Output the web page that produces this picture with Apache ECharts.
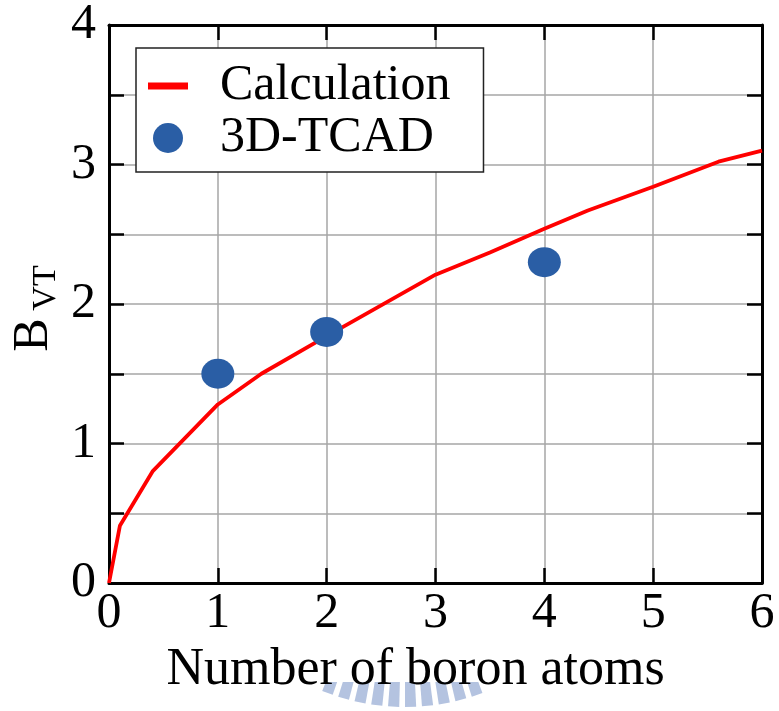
<!DOCTYPE html>
<html>
<head>
<meta charset="utf-8">
<script src="https://cdn.jsdelivr.net/npm/echarts@6/dist/echarts.min.js"></script>
<style>
html,body{margin:0;padding:0;background:#fff;}
#chart{width:779px;height:711px;}
</style>
</head>
<body>
<div id="chart"></div>
<script>
// ---- data ----
const calcX = [0, 0.1, 0.4, 0.7, 1.0, 1.4, 2.0, 2.5, 3.0, 3.5, 4.0, 4.4, 5.0, 5.6, 6.0];
const calcY = [0, 0.41, 0.80, 1.04, 1.28, 1.50, 1.77, 1.99, 2.21, 2.37, 2.54, 2.67, 2.84, 3.02, 3.10];
const tcadX = [1, 2, 4];
const tcadY = [1.5, 1.8, 2.3];
const seriesNames = ['Calculation', '3D-TCAD'];
const xTitle = 'Number of boron atoms';
const yTitleMain = 'B';
const yTitleSub = 'VT';

const FONT = '"Liberation Serif", "Times New Roman", serif';
const chart = echarts.init(document.getElementById('chart'), null, {renderer: 'canvas'});

function axisLine() { return {show: true, onZero: false, lineStyle: {color: '#000', width: 3}}; }
function tick() { return {show: true, inside: true, length: 15, lineStyle: {color: '#000', width: 2.5}}; }
function split() { return {show: true, lineStyle: {color: '#a6a6a6', width: 1.5}}; }

// decorative faint stamp at bottom of the reference image (not data)
const stamp = [];
(function () {
  const cx = 405, cy = 486, R = 221, yTop = 682;
  const n = 10, span = 44 * Math.PI / 180, per = span / n, dash = per * 0.66;
  for (let i = 0; i < n; i++) {
    const a1 = -span / 2 + i * per, a2 = a1 + dash;
    const pts = [
      [cx + (yTop - cy) * Math.tan(a1), yTop],
      [cx + R * Math.sin(a1), cy + R * Math.cos(a1)],
      [cx + R * Math.sin(a2), cy + R * Math.cos(a2)],
      [cx + (yTop - cy) * Math.tan(a2), yTop]
    ];
    stamp.push({type: 'polygon', silent: true, z: 0, shape: {points: pts}, style: {fill: '#b4c3e0'}});
  }
})();

chart.setOption({
  backgroundColor: '#fff',
  animation: false,
  grid: {left: 109, top: 22, right: 17, bottom: 128, containLabel: false},
  legend: {
    show: true,
    orient: 'vertical',
    left: 136, top: 48,
    padding: [13, 33, 9, 12],
    backgroundColor: '#fff',
    borderColor: '#222',
    borderWidth: 1.5,
    borderRadius: 0,
    itemWidth: 40,
    itemHeight: 30,
    itemGap: 2,
    symbolKeepAspect: true,
    textStyle: {fontFamily: FONT, fontSize: 50, color: '#000', lineHeight: 44, padding: [0, 0, 0, 27]},
    data: [
      {name: seriesNames[0], icon: 'path://M0,0 L40,0 L40,7 L0,7 Z', itemStyle: {color: '#ff0000'}},
      {name: seriesNames[1], icon: 'circle'}
    ]
  },
  xAxis: [{
    type: 'value', min: 0, max: 6, interval: 1, position: 'bottom',
    axisLine: axisLine(), axisTick: tick(), splitLine: split(),
    axisLabel: {fontFamily: FONT, fontSize: 50, color: '#000', margin: 6},
    name: xTitle, nameLocation: 'middle', nameGap: 46,
    nameTextStyle: {fontFamily: FONT, fontSize: 52, color: '#000', padding: [0, 40, 0, 0]}
  }, {
    type: 'value', min: 0, max: 6, interval: 1, position: 'top',
    axisLine: axisLine(), axisTick: tick(), splitLine: {show: false},
    axisLabel: {show: false}
  }],
  yAxis: [{
    type: 'value', min: 0, max: 4, interval: 0.5, position: 'left',
    axisLine: axisLine(), axisTick: tick(), splitLine: split(),
    axisLabel: {
      fontFamily: FONT, fontSize: 50, color: '#000', margin: 13,
      formatter: v => (Math.abs(v - Math.round(v)) < 1e-9 ? String(Math.round(v)) : '')
    }
  }, {
    type: 'value', min: 0, max: 4, interval: 0.5, position: 'right',
    axisLine: axisLine(), axisTick: tick(), splitLine: {show: false},
    axisLabel: {show: false}
  }],
  series: [{
    name: seriesNames[0],
    type: 'line',
    data: calcX.map((x, i) => [x, calcY[i]]),
    symbol: 'none',
    smooth: false,
    clip: true,
    lineStyle: {color: '#ff0000', width: 3.8},
    itemStyle: {color: '#ff0000'},
    z: 3
  }, {
    name: seriesNames[1],
    type: 'scatter',
    data: tcadX.map((x, i) => [x, tcadY[i]]),
    symbol: 'circle',
    symbolSize: [33, 30],
    itemStyle: {color: '#2a5ea5', opacity: 1},
    z: 4
  }],
  graphic: [
    {
      type: 'text', x: 34, y: 335, rotation: Math.PI / 2, z: 10,
      style: {text: yTitleMain, font: '50px ' + FONT, fill: '#000',
        align: 'center', verticalAlign: 'middle', textAlign: 'center', textVerticalAlign: 'middle'}
    },
    {
      type: 'text', x: 46, y: 288, rotation: Math.PI / 2, z: 10,
      style: {text: yTitleSub, font: '34px ' + FONT, fill: '#000',
        align: 'center', verticalAlign: 'middle', textAlign: 'center', textVerticalAlign: 'middle'}
    }
  ].concat(stamp)
});
</script>
</body>
</html>
